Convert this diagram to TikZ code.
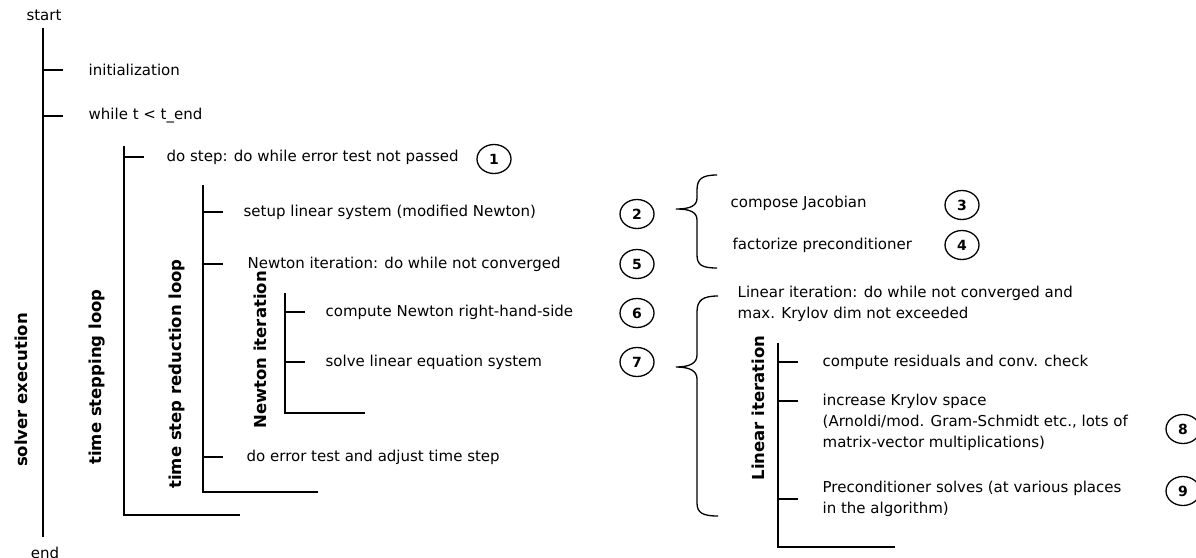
\documentclass[tikz,border=0pt]{standalone}
\usepackage{fontspec}
\setmainfont{DejaVu Sans}
\usetikzlibrary{shapes.geometric}
\begin{document}
\begin{tikzpicture}[x=1pt,y=-1pt, line width=1.3pt,
  txt/.style={anchor=west, inner sep=0pt, font=\fontsize{15}{21}\selectfont},
  mtxt/.style={anchor=north west, inner sep=0pt, align=left, font=\fontsize{15}{21}\selectfont},
  vlab/.style={rotate=90, inner sep=0pt, font=\fontsize{16.5}{18}\selectfont\bfseries},
  num/.style={draw, ellipse, line width=1.3pt, minimum width=34pt, minimum height=29pt, inner sep=0pt, font=\fontsize{14}{16}\selectfont\bfseries}]
\useasboundingbox (0,0) rectangle (1196,557);

% level 0
\node[inner sep=0pt, font=\fontsize{15}{16}\selectfont] (start) at (44,15) {start};
\node[inner sep=0pt, font=\fontsize{15}{16}\selectfont] (end) at (45,553) {end};
\draw (43,28) -- (43,537);
\draw (43,70) -- (63,70);
\draw (43,116) -- (63,116);
\node[txt] (init) at (88,70) {initialization};
\node[txt] (while) at (88,116) {while t < t\_end};
\node[vlab] (solver) at (21,390) {solver execution};

% level 1
\draw (124,146) -- (124,515) -- (240,515);
\draw (124,157) -- (144,157);
\node[txt] (dostep) at (166,157) {do step: do while error test not passed};
\node[vlab] (tsl) at (97,377) {time stepping loop};
\node[num] (c1) at (494,159) {1};

% level 2
\draw (203,185) -- (203,492) -- (318,492);
\draw (203,212) -- (223,212);
\draw (203,264) -- (223,264);
\draw (203,457) -- (223,457);
\node[txt] (setup) at (243,212) {setup linear system (modified Newton)};
\node[txt] (newt) at (247,264) {Newton iteration: do while not converged};
\node[txt] (errt) at (246,457) {do error test and adjust time step};
\node[vlab] (tsrl) at (177,374) {time step reduction loop};

% level 3
\draw (285,293) -- (285,413) -- (365,413);
\draw (285,312) -- (305,312);
\draw (285,362) -- (305,362);
\node[txt] (rhs) at (325,312) {compute Newton right-hand-side};
\node[txt] (solve) at (325,362) {solve linear equation system};
\node[vlab] (nit) at (260,350) {Newton iteration};

% numbers
\node[num] (c2) at (637,214) {2};
\node[num] (c5) at (637,264) {5};
\node[num] (c6) at (637,313) {6};
\node[num] (c7) at (637,362) {7};

% brace 1
\draw (717,175) .. controls (702,175) and (697,179) .. (697,190) -- (697,198)
  .. controls (697,206) and (690,209) .. (676,209)
  .. controls (690,209) and (697,212) .. (697,220) -- (697,255)
  .. controls (697,265) and (702,268) .. (717,268);
\node[txt] (jac) at (730,203) {compose Jacobian};
\node[txt] (fac) at (732,245) {factorize preconditioner};
\node[num] (c3) at (962,205) {3};
\node[num] (c4) at (962,245) {4};

% brace 2
\draw (718,296) .. controls (703,296) and (697,300) .. (697,312) -- (697,355)
  .. controls (697,363) and (690,367) .. (676,367)
  .. controls (690,367) and (697,371) .. (697,379) -- (697,503)
  .. controls (697,513) and (703,516) .. (718,516);
\node[mtxt] (lin) at (737,285) {Linear iteration: do while not converged and\\max. Krylov dim not exceeded};

% level linear
\draw (778,343) -- (778,547) -- (895,547);
\draw (778,362) -- (798,362);
\draw (778,401) -- (798,401);
\draw (778,499) -- (798,499);
\node[vlab] (lit) at (758,408) {Linear iteration};
\node[txt] (res) at (822,362) {compute residuals and conv. check};
\node[mtxt] (kry) at (822,393) {increase Krylov space\\(Arnoldi/mod. Gram-Schmidt etc., lots of\\matrix-vector multiplications)};
\node[mtxt] (pre) at (822,480) {Preconditioner solves (at various places\\in the algorithm)};
\node[num] (c8) at (1183,429) {8};
\node[num] (c9) at (1183,491) {9};
\end{tikzpicture}
\end{document}
